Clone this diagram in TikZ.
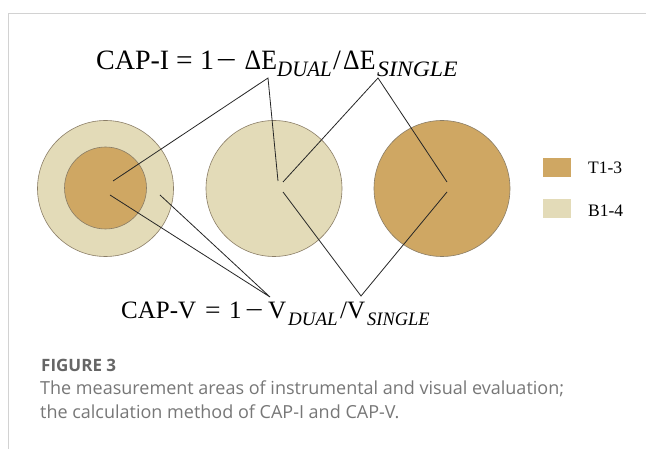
\documentclass[tikz,border=0pt]{standalone}
\usepackage{fontspec}
\setmainfont{Liberation Serif}
\newfontfamily\capfont{Open Sans}
\definecolor{tanD}{HTML}{CFA763}
\definecolor{tanL}{HTML}{E3DBB8}
\definecolor{ringC}{HTML}{8A7D66}
\definecolor{frameC}{HTML}{D2D2D2}
\definecolor{capC}{HTML}{777777}
\definecolor{figC}{HTML}{666666}
\begin{document}
\begin{tikzpicture}[x=1pt,y=-1pt,
  disc/.style={circle,draw=ringC,line width=0.6pt,inner sep=0pt},
  leader/.style={draw=black!85,line width=0.8pt},
  swatch/.style={inner sep=0pt,minimum width=28pt,minimum height=19pt},
  legtext/.style={anchor=west,inner sep=0pt,font=\fontsize{17.5}{19}\selectfont},
  fbig/.style={anchor=base west,inner sep=0pt,font=\fontsize{28}{30}\selectfont},
  fsmall/.style={anchor=base west,inner sep=0pt,font=\fontsize{25}{27}\selectfont},
  subbig/.style={anchor=base west,inner sep=0pt,font=\fontsize{22}{24}\selectfont\itshape},
  subsmall/.style={anchor=base west,inner sep=0pt,font=\fontsize{19}{21}\selectfont\itshape},
  captext/.style={anchor=west,inner sep=0pt,text=capC,font=\capfont\fontsize{18}{20}\selectfont}]
\useasboundingbox (0,0) rectangle (646,449);
\fill[white] (0,0) rectangle (646,449);
% frame
\draw[frameC,line width=1pt] (8.5,449) -- (8.5,13.5) -- (646,13.5);
% circles
\node[disc,fill=tanL,minimum size=136pt] (c1) at (105.5,188.5) {};
\node[disc,fill=tanD,minimum size=82pt] (c1i) at (105.5,188) {};
\node[disc,fill=tanL,minimum size=136pt] (c2) at (274,188.5) {};
\node[disc,fill=tanD,minimum size=136pt] (c3) at (442,188.5) {};
% top formula
\node[fbig] (ia) at (96,70) {CAP-I};
\node[fbig] (ib) at (176,70) {\scalebox{1.05}[1]{=}};
\node[fbig] (ic) at (200,70) {1};
\node[fbig] (id) at (216,70) {\scalebox{1.3}[1]{−}};
\node[fbig] (ie) at (244.5,70) {\scalebox{0.92}[1]{ΔE}};
\node[subbig] (if) at (277,77) {\scalebox{0.95}[1]{DUAL}};
\node[fbig] (ig) at (333,70) {/};
\node[fbig] (ih) at (343,70) {\scalebox{0.92}[1]{ΔE}};
\node[subbig] (ii) at (377,77) {\scalebox{1.08}[1]{SINGLE}};
% bottom formula
\node[fsmall] (va) at (121,319) {CAP-V};
\node[fsmall] (vb) at (205,319) {\scalebox{1.1}[1]{=}};
\node[fsmall] (vc) at (229,319) {1};
\node[fsmall] (vd) at (245,319) {\scalebox{1.3}[1]{−}};
\node[fsmall] (ve) at (268,319) {V};
\node[subsmall] (vf) at (288,326) {DUAL};
\node[fsmall] (vg) at (340,319) {/};
\node[fsmall] (vh) at (347,319) {V};
\node[subsmall] (vi) at (367,326) {\scalebox{0.97}[1]{SINGLE}};
% apexes and end points
\coordinate (t1) at (268,78);
\coordinate (t2) at (378,78);
\coordinate (b1) at (270,297);
\coordinate (b2) at (361,296);
\coordinate (p1) at (113,181);
\coordinate (p2) at (110,195);
\coordinate (p3) at (160,195);
\coordinate (m1) at (278,181);
\coordinate (m2) at (283,182);
\coordinate (m3) at (283,192);
\coordinate (r1) at (447,182);
\coordinate (r2) at (447,192);
% leaders
\draw[leader] (p1) -- (t1) -- (m1);
\draw[leader] (m2) -- (t2) -- (r1);
\draw[leader] (p2) -- (b1) -- (p3);
\draw[leader] (m3) -- (b2) -- (r2);
% legend
\node[swatch,fill=tanD] (s1) at (557,167.5) {};
\node[swatch,fill=tanL] (s2) at (557,209) {};
\node[legtext] (l1) at (588,168) {T1-3};
\node[legtext] (l2) at (588,211) {B1-4};
% caption
\node[anchor=west,inner sep=0pt,text=figC,font=\capfont\bfseries\fontsize{17}{19}\selectfont] (fig) at (41,365) {FIGURE 3};
\node[captext] (cap1) at (40,389) {The measurement areas of instrumental and visual evaluation;};
\node[captext] (cap2) at (40,412) {the calculation method of CAP-I and CAP-V.};
\end{tikzpicture}
\end{document}
